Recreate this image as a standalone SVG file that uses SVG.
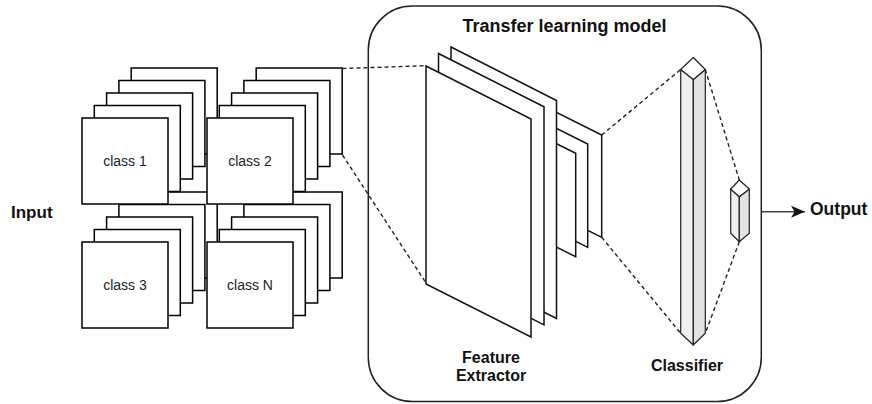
<svg xmlns="http://www.w3.org/2000/svg" width="872" height="404" viewBox="0 0 872 404">
  <defs>
    <style>
      .sq { fill: #ffffff; stroke: #000000; stroke-width: 1.5; }
      .panel { fill: #ffffff; stroke: #111111; stroke-width: 1.5; stroke-linejoin: miter; }
      .prism { stroke: #222222; stroke-width: 1.2; stroke-linejoin: round; }
      .dash { fill: none; stroke: #222222; stroke-width: 1.4; stroke-dasharray: 4 3; }
      .lbl { font-family: "Liberation Sans", Arial, sans-serif; font-size: 14px; fill: #222222; text-anchor: middle; }
      .bold { font-family: "Liberation Sans", Arial, sans-serif; font-weight: bold; fill: #111111; }
    </style>
    <marker id="arrow" viewBox="0 0 14 12" refX="14" refY="6" markerWidth="14" markerHeight="12" markerUnits="userSpaceOnUse" orient="auto">
      <path d="M0,0 L14,6 L0,12 L3.5,6 Z" fill="#111111"/>
    </marker>
  </defs>

  <rect width="872" height="404" fill="#ffffff"/>

  <!-- Input label -->
  <g id="input-label">
    <text class="bold" x="11" y="217.5" font-size="17">Input</text>
  </g>

  <!-- Image stacks, drawn back to front -->
  <g id="stack-class3">
    <rect class="sq" x="131.2" y="192" width="86" height="86"/>
    <rect class="sq" x="118.9" y="204.5" width="86" height="86"/>
    <rect class="sq" x="106.6" y="217" width="86" height="86"/>
    <rect class="sq" x="94.3" y="229.5" width="86" height="86"/>
    <rect class="sq" x="82" y="242" width="86" height="86"/>
    <text class="lbl" x="125" y="290">class 3</text>
  </g>
  <g id="stack-classN">
    <rect class="sq" x="256.2" y="192" width="86" height="86"/>
    <rect class="sq" x="243.9" y="204.5" width="86" height="86"/>
    <rect class="sq" x="231.6" y="217" width="86" height="86"/>
    <rect class="sq" x="219.3" y="229.5" width="86" height="86"/>
    <rect class="sq" x="207" y="242" width="86" height="86"/>
    <text class="lbl" x="250" y="290">class N</text>
  </g>
  <g id="stack-class1">
    <rect class="sq" x="131.2" y="68" width="86" height="86"/>
    <rect class="sq" x="118.9" y="80.5" width="86" height="86"/>
    <rect class="sq" x="106.6" y="93" width="86" height="86"/>
    <rect class="sq" x="94.3" y="105.5" width="86" height="86"/>
    <rect class="sq" x="82" y="118" width="86" height="86"/>
    <text class="lbl" x="125" y="166">class 1</text>
  </g>
  <g id="stack-class2">
    <rect class="sq" x="256.2" y="68" width="86" height="86"/>
    <rect class="sq" x="243.9" y="80.5" width="86" height="86"/>
    <rect class="sq" x="231.6" y="93" width="86" height="86"/>
    <rect class="sq" x="219.3" y="105.5" width="86" height="86"/>
    <rect class="sq" x="207" y="118" width="86" height="86"/>
    <text class="lbl" x="250" y="166">class 2</text>
  </g>

  <!-- Model container -->
  <g id="transfer-model">
    <rect x="368.3" y="6" width="393" height="395.5" rx="44" ry="44" fill="none" stroke="#222222" stroke-width="1.5"/>
    <text class="bold" x="564.5" y="31.5" font-size="18" text-anchor="middle">Transfer learning model</text>
  </g>

  <!-- Feature extractor: small maps behind, large maps in front -->
  <g id="feature-extractor">
    <polygon class="panel" points="520,94.2 601.7,135 601.7,237.3 520,196.5"/>
    <polygon class="panel" points="520,110.2 587.7,144 587.7,247.3 520,213.5"/>
    <polygon class="panel" points="520,125.5 575.7,153.3 575.7,256.7 520,228.9"/>
    <polygon class="panel" points="451,47 556.5,100.5 556.5,318.5 451,265"/>
    <polygon class="panel" points="438.5,53.5 544,106.8 544,324.8 438.5,271.5"/>
    <polygon class="panel" points="426,66 531,119 531,337 426,284"/>
    <text class="bold" x="491" y="363.3" font-size="16" text-anchor="middle">Feature</text>
    <text class="bold" x="491" y="380.7" font-size="16" text-anchor="middle">Extractor</text>
  </g>

  <!-- Classifier: tall dense layer and small output layer -->
  <g id="classifier">
    <polygon class="prism" fill="#f0f0f0" points="680.7,69.5 693.3,79.5 693.3,345 680.7,333.3"/>
    <polygon class="prism" fill="#e2e2e2" points="693.3,79.5 705.3,69.5 705.3,333.3 693.3,345"/>
    <polygon class="prism" fill="#ffffff" points="693.3,57.5 705.3,69.5 693.3,79.5 680.7,69.5"/>
    <polygon class="prism" fill="#f0f0f0" points="730.7,189 739.3,196.7 739.3,241.7 730.7,233.3"/>
    <polygon class="prism" fill="#e2e2e2" points="739.3,196.7 749.3,189 749.3,233.3 739.3,241.7"/>
    <polygon class="prism" fill="#ffffff" points="739.3,180 749.3,189 739.3,196.7 730.7,189"/>
    <text class="bold" x="687" y="371" font-size="16" text-anchor="middle">Classifier</text>
  </g>

  <!-- Output label -->
  <g id="output-label">
    <text class="bold" x="810" y="214.5" font-size="17.5">Output</text>
  </g>

  <!-- Connectors -->
  <g id="connectors">
    <line class="dash" x1="342.5" y1="68.5" x2="426" y2="65.7"/>
    <line class="dash" x1="342.5" y1="155" x2="426" y2="283"/>
    <line class="dash" x1="601.7" y1="135" x2="680.7" y2="69.5"/>
    <line class="dash" x1="601.7" y1="237.3" x2="680.7" y2="333.3"/>
    <line class="dash" x1="705.3" y1="69.5" x2="739.3" y2="180"/>
    <line class="dash" x1="739.3" y1="241.7" x2="705.3" y2="333.3"/>
    <line x1="761.7" y1="211.7" x2="805" y2="211.7" stroke="#444444" stroke-width="1.4" marker-end="url(#arrow)"/>
  </g>
</svg>
